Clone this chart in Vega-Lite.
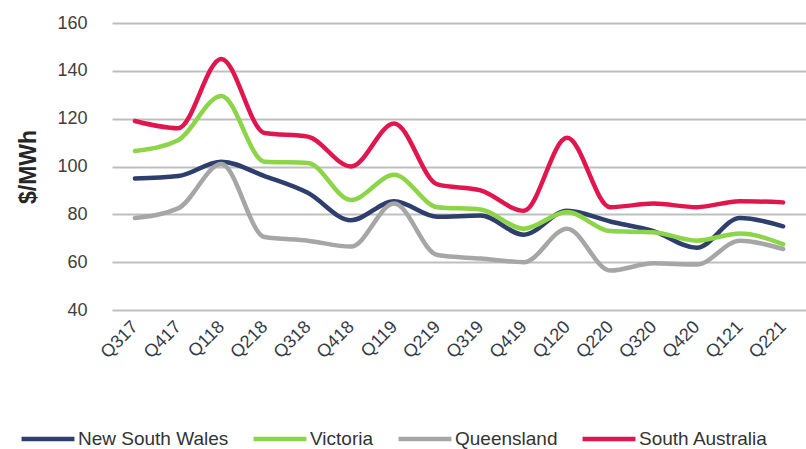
{
  "$schema": "https://vega.github.io/schema/vega-lite/v6.json",
  "width": 694,
  "height": 287,
  "autosize": {"type": "none"},
  "padding": {"left": 112, "top": 23, "right": 0, "bottom": 139},
  "background": "white",
  "config": {"view": {"stroke": null}, "font": "Liberation Sans"},
  "data": {"values": [
    {"q":"Q317","s":"New South Wales","v":95},{"q":"Q317","s":"Victoria","v":106.5},{"q":"Q317","s":"Queensland","v":78.5},{"q":"Q317","s":"South Australia","v":119},
    {"q":"Q417","s":"New South Wales","v":96},{"q":"Q417","s":"Victoria","v":111},{"q":"Q417","s":"Queensland","v":82.5},{"q":"Q417","s":"South Australia","v":116},
    {"q":"Q118","s":"New South Wales","v":102},{"q":"Q118","s":"Victoria","v":129.5},{"q":"Q118","s":"Queensland","v":101},{"q":"Q118","s":"South Australia","v":145},
    {"q":"Q218","s":"New South Wales","v":96},{"q":"Q218","s":"Victoria","v":102},{"q":"Q218","s":"Queensland","v":70.5},{"q":"Q218","s":"South Australia","v":114},
    {"q":"Q318","s":"New South Wales","v":89},{"q":"Q318","s":"Victoria","v":101.5},{"q":"Q318","s":"Queensland","v":69},{"q":"Q318","s":"South Australia","v":112.5},
    {"q":"Q418","s":"New South Wales","v":77.5},{"q":"Q418","s":"Victoria","v":86},{"q":"Q418","s":"Queensland","v":66.5},{"q":"Q418","s":"South Australia","v":100},
    {"q":"Q119","s":"New South Wales","v":85.5},{"q":"Q119","s":"Victoria","v":96.5},{"q":"Q119","s":"Queensland","v":84.5},{"q":"Q119","s":"South Australia","v":118},
    {"q":"Q219","s":"New South Wales","v":79},{"q":"Q219","s":"Victoria","v":83},{"q":"Q219","s":"Queensland","v":63},{"q":"Q219","s":"South Australia","v":92.5},
    {"q":"Q319","s":"New South Wales","v":79.5},{"q":"Q319","s":"Victoria","v":82},{"q":"Q319","s":"Queensland","v":61.5},{"q":"Q319","s":"South Australia","v":90},
    {"q":"Q419","s":"New South Wales","v":71.5},{"q":"Q419","s":"Victoria","v":74},{"q":"Q419","s":"Queensland","v":60},{"q":"Q419","s":"South Australia","v":81.5},
    {"q":"Q120","s":"New South Wales","v":81.5},{"q":"Q120","s":"Victoria","v":81},{"q":"Q120","s":"Queensland","v":74},{"q":"Q120","s":"South Australia","v":112},
    {"q":"Q220","s":"New South Wales","v":77},{"q":"Q220","s":"Victoria","v":73},{"q":"Q220","s":"Queensland","v":56.5},{"q":"Q220","s":"South Australia","v":83},
    {"q":"Q320","s":"New South Wales","v":73},{"q":"Q320","s":"Victoria","v":72.5},{"q":"Q320","s":"Queensland","v":59.5},{"q":"Q320","s":"South Australia","v":84.5},
    {"q":"Q420","s":"New South Wales","v":66},{"q":"Q420","s":"Victoria","v":69},{"q":"Q420","s":"Queensland","v":59},{"q":"Q420","s":"South Australia","v":83},
    {"q":"Q121","s":"New South Wales","v":78.5},{"q":"Q121","s":"Victoria","v":72},{"q":"Q121","s":"Queensland","v":69},{"q":"Q121","s":"South Australia","v":85.5},
    {"q":"Q221","s":"New South Wales","v":75},{"q":"Q221","s":"Victoria","v":67.5},{"q":"Q221","s":"Queensland","v":65.5},{"q":"Q221","s":"South Australia","v":85}
  ]},
  "mark": {"type": "line", "interpolate": "monotone", "strokeWidth": 4.5, "strokeCap": "round"},
  "encoding": {
    "x": {"field": "q", "type": "ordinal", "sort": null,
      "scale": {"type": "point", "padding": 0.53},
      "axis": {"title": null, "labelAngle": -45, "labelFontSize": 18, "labelColor": "#333a48", "domain": false, "ticks": false, "labelPadding": 14, "labelAlign": "right", "labelBaseline": "middle"}},
    "y": {"field": "v", "type": "quantitative",
      "scale": {"domain": [40, 160], "nice": false, "zero": false},
      "axis": {"title": "$/MWh", "titleFontWeight": "bold", "titleFontSize": 23, "titleColor": "#262626", "titlePadding": 16,
        "values": [40, 60, 80, 100, 120, 140, 160], "labelFontSize": 18, "labelColor": "#404040", "labelPadding": 25,
        "domain": false, "ticks": false, "grid": true, "gridColor": "#BFBFBF", "gridWidth": 2}},
    "color": {"field": "s", "type": "nominal",
      "scale": {"domain": ["New South Wales", "Victoria", "Queensland", "South Australia"],
        "range": ["#2E3F6E", "#8CD448", "#A6A6A6", "#E0174F"]},
      "legend": {"title": null, "orient": "none", "direction": "horizontal", "legendX": -93, "legendY": 387,
        "symbolType": "stroke", "symbolStrokeWidth": 4.5, "symbolSize": 2800, "labelFontSize": 19, "labelColor": "#333333",
        "columnPadding": 15, "labelOffset": 1, "labelLimit": 300, "padding": 0}}
  }
}
